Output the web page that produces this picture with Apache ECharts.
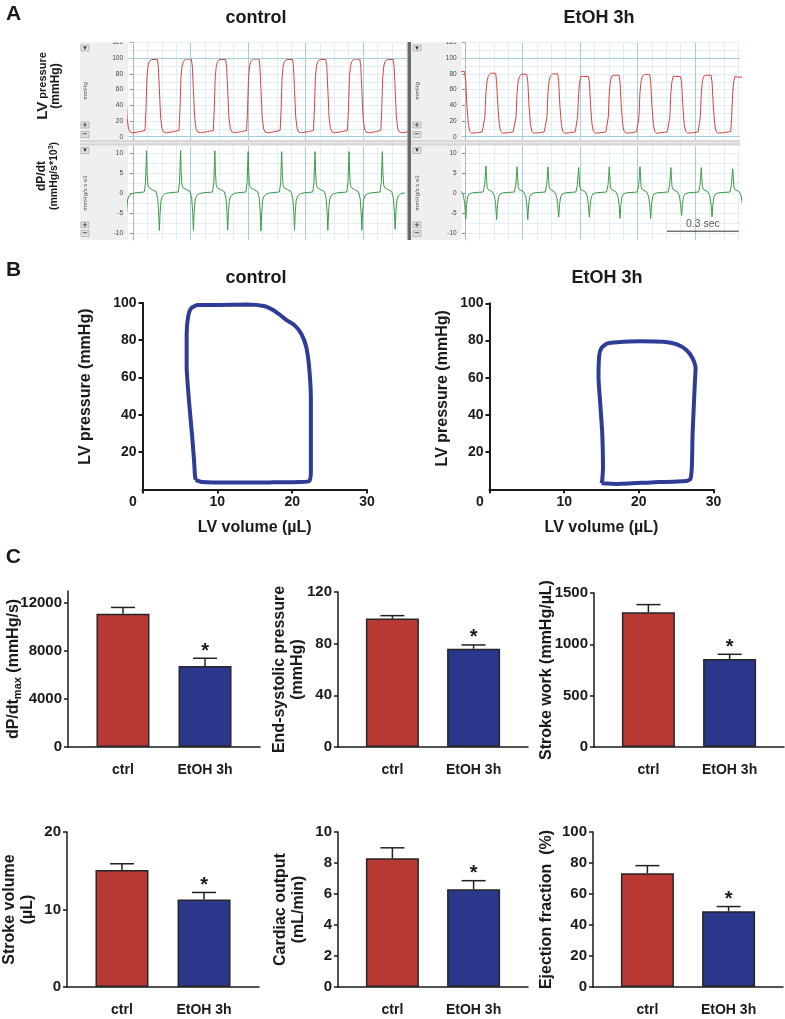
<!DOCTYPE html>
<html>
<head>
<meta charset="utf-8">
<title>LV function</title>
<script src="https://cdn.jsdelivr.net/npm/echarts@6.0.0/dist/echarts.min.js"></script>
<style>
  html, body { margin: 0; padding: 0; background: #ffffff; }
  #chart { width: 785px; height: 1019px; }
</style>
</head>
<body>
<div id="chart"></div>
<script>
const FONT = '"Liberation Sans", Arial, Helvetica, sans-serif';

/* ---------------- Panel A : pressure & dP/dt recordings ---------------- */
const traceMajorTimes = [0, 0.24, 0.48, 0.72, 0.96];
const traceMinorTimes = [0.06, 0.12, 0.18, 0.30, 0.36, 0.42, 0.54, 0.60, 0.66, 0.78, 0.84, 0.90, 1.02, 1.08, 1.14];
const pressureTickLabels = [0, 20, 40, 60, 80, 100, 120];
const pressureMinorLines = [10, 30, 50, 70, 90, 110];
const pressureMajorLines = [0, 100];
const dpdtTickLabels = [-10, -5, 0, 5, 10];
const dpdtMinorLines = [-7.5, -2.5, 2.5, 7.5];

// upstroke time of each beat (s) and per-beat extremes
const ctrlBeatOnsets   = [-0.090, 0.050, 0.192, 0.335, 0.474, 0.614, 0.753, 0.895, 1.034];
const ctrlSystolicPeak = [98.5, 98.5, 99, 98.5, 99, 98.5, 98.5, 99, 98.5];
const ctrlDpdtMax      = [10.5, 10.5, 10.6, 10.5, 10.3, 10.3, 10.3, 10.3, 10.3];
const ctrlDpdtMin      = [-9.4, -9.4, -9.4, -9.3, -9.5, -9.4, -9.4, -9.4, -9.1];

const etohBeatOnsets   = [-0.050, 0.079, 0.209, 0.338, 0.466, 0.594, 0.722, 0.851, 0.978, 1.109];
const etohSystolicPeak = [83, 81, 79.7, 80.2, 76.8, 78.5, 79.3, 76.8, 78.5, 76];
const etohDpdtMax      = [6.5, 6.7, 6.5, 6.5, 6.3, 6.5, 6.5, 6.3, 6.3, 6.0];
const etohDpdtMin      = [-6.6, -6.7, -6.7, -6.1, -6.1, -6.4, -6.4, -5.7, -6.0, -6.0];

// one beat: [s after upstroke, value]; 'P' = that beat's peak, 'N' = its minimum
const ctrlPressureBeat = [[0, 8], [0.004, 35], [0.008, 75], [0.0125, 90], [0.018, 96], [0.028, 'P'], [0.0515, 'P'], [0.0555, 90], [0.060, 60], [0.065, 25], [0.071, 10], [0.078, 6], [0.089, 5], [0.118, 6.5]];
const ctrlDpdtBeat     = [[-0.003, 0.2], [0.002, 2.5], [0.0045, 7], [0.0065, 'P'], [0.009, 5], [0.012, 2], [0.016, 1.3], [0.030, 0.8], [0.046, 0.3], [0.053, -1.5], [0.057, -5], [0.060, 'N'], [0.063, -5], [0.067, -1.8], [0.073, -0.8], [0.085, -0.2], [0.100, 0]];
const etohPressureBeat = [[0, 6.5], [0.004, 25], [0.008, 55], [0.0125, 70], [0.018, 77], [0.028, 'P'], [0.0487, 'P'], [0.053, 70], [0.058, 40], [0.064, 16], [0.0696, 7], [0.078, 4.5], [0.097, 5], [0.122, 6.2]];
const etohDpdtBeat     = [[-0.003, 0.2], [0.003, 2], [0.006, 4.5], [0.0083, 'P'], [0.0105, 4], [0.013, 1.5], [0.018, 0.8], [0.035, 0.3], [0.044, -0.8], [0.049, -3], [0.053, 'N'], [0.0565, -3], [0.061, -1], [0.068, -0.3], [0.080, 0]];

const scaleBar = [[0.843, -9.6], [1.143, -9.6]];   // 0.3 sec
const scaleBarLabel = [[0.993, -9.6]];

/* ---------------- Panel B : PV loops ---------------- */
const volumeTicks = [0, 10, 20, 30];
const pvPressureTicks = [20, 40, 60, 80, 100];
const ctrlLoop = [[7.1,5.2],[8,4],[12,3.7],[17,3.8],[21,4.0],[22.3,4.6],[22.5,10],[22.5,25],[22.5,48],[22.3,64],[21.9,76],[21.2,83.5],[20.3,88],[19.2,90.8],[18.4,93.4],[17.5,96],[16.2,98.2],[14,99],[10,98.8],[7.4,98.8],[6.5,97],[6.1,92.5],[5.9,83],[5.9,66],[6.2,48],[6.6,30],[6.9,15],[7.0,8],[7.1,5.2]];
const etohLoop = [[15.0,3.2],[17,2.9],[21.6,3.7],[26.4,4.5],[26.9,5.5],[27.1,12],[27.2,30],[27.4,48],[27.5,57],[27.6,65],[27.2,70.4],[26.4,74.8],[25.1,77.9],[23.3,79.3],[20.2,79.6],[17.1,79.1],[15.8,78.4],[15.0,76],[14.7,72],[14.6,60],[14.8,48],[15.1,30],[15.2,12],[15.1,5],[15.0,3.2]];

/* ---------------- Panel C : haemodynamic parameters ---------------- */
const groups = ['ctrl', 'EtOH 3h'];
const significant = [0, 1];
const dpdtMaxMean = [11100, 6750];  const dpdtMaxSem = [530, 645];
const espMean = [99.4, 76.1];       const espSem = [2.3, 2.9];
const strokeWorkMean = [1312, 857]; const strokeWorkSem = [75, 46];
const strokeVolMean = [15.1, 11.3]; const strokeVolSem = [0.8, 0.9];
const coMean = [8.3, 6.3];          const coSem = [0.68, 0.56];
const efMean = [73.4, 48.9];        const efSem = [4.9, 3.0];
const dpdtMaxTicks = [0, 4000, 8000, 12000];
const espTicks = [0, 40, 80, 120];
const strokeWorkTicks = [0, 500, 1000, 1500];
const strokeVolTicks = [0, 10, 20];
const coTicks = [0, 2, 4, 6, 8, 10];
const efTicks = [0, 20, 40, 60, 80, 100];

/* ================= build ================= */
function buildTrace(onsets, beat, peaks, mins) {
  const out = [];
  onsets.forEach((t0, i) => {
    beat.forEach(([dt, v]) => {
      const val = v === 'P' ? peaks[i] : (v === 'N' ? mins[i] : v);
      out.push([+(t0 + dt).toFixed(4), val]);
    });
  });
  return out;
}
const ctrlPressureTrace = buildTrace(ctrlBeatOnsets, ctrlPressureBeat, ctrlSystolicPeak, []);
const ctrlDpdtTrace = buildTrace(ctrlBeatOnsets, ctrlDpdtBeat, ctrlDpdtMax, ctrlDpdtMin);
const etohPressureTrace = buildTrace(etohBeatOnsets, etohPressureBeat, etohSystolicPeak, []);
const etohDpdtTrace = buildTrace(etohBeatOnsets, etohDpdtBeat, etohDpdtMax, etohDpdtMin);

const INK = '#1a1a1a';
const RED = '#b93a34';
const BLUE = '#2b378a';
const GRID_MAJOR = '#a3cfdb';
const GRID_MINOR = '#e0eff4';
const plain = v => String(v);

const grids = [], xAxes = [], yAxes = [], series = [], graphics = [];

function addGrid(g) {
  grids.push(Object.assign({containLabel: false, outerBoundsMode: 'none'}, g));
  return grids.length - 1;
}

function traceGrid(rect, xr, yr, yTicks, yMinor, yName, nameGap) {
  const gi = addGrid(Object.assign({show: true, backgroundColor: '#ffffff', borderWidth: 0}, rect));
  const xi = xAxes.push({gridIndex: gi, type: 'value', position: 'bottom', min: xr[0], max: xr[1],
    axisLine: {show: false}, axisTick: {show: false, customValues: traceMajorTimes}, axisLabel: {show: false},
    splitLine: {show: true, lineStyle: {color: GRID_MAJOR, width: 1}}}) - 1;
  xAxes.push({gridIndex: gi, type: 'value', position: 'top', min: xr[0], max: xr[1],
    axisLine: {show: false}, axisTick: {show: false, customValues: traceMinorTimes}, axisLabel: {show: false},
    splitLine: {show: true, lineStyle: {color: GRID_MINOR, width: 1}}});
  const yi = yAxes.push({gridIndex: gi, type: 'value', position: 'left', min: yr[0], max: yr[1],
    name: yName, nameLocation: 'middle', nameGap: nameGap, nameRotate: 90, nameMoveOverlap: false,
    nameTextStyle: {fontSize: 6, color: '#555', fontFamily: FONT},
    axisLine: {show: true, lineStyle: {color: '#b4b4b4', width: 1}},
    axisTick: {show: true, length: 3, customValues: yTicks, lineStyle: {color: '#888'}},
    axisLabel: {customValues: yTicks, fontSize: 6.5, color: '#444', margin: 5, fontFamily: FONT, formatter: plain},
    splitLine: {show: true, lineStyle: {color: GRID_MINOR, width: 1}}}) - 1;
  yAxes.push({gridIndex: gi, type: 'value', position: 'right', min: yr[0], max: yr[1],
    axisLine: {show: false}, axisTick: {show: false, customValues: yMinor}, axisLabel: {show: false},
    splitLine: {show: true, lineStyle: {color: GRID_MINOR, width: 1}}});
  return {x: xi, y: yi};
}

const CTRL_X = [-0.021, 1.1434], ETOH_X = [-0.0138, 1.1477];
const P_RANGE = [-4.2, 120.8], D_RANGE = [-11.8, 11.7];

const aCP = traceGrid({left: 128, top: 42, width: 279, height: 98}, CTRL_X, P_RANGE, pressureTickLabels, pressureMinorLines, 'mmHg', 40);
const aCD = traceGrid({left: 128, top: 146, width: 279, height: 94}, CTRL_X, D_RANGE, dpdtTickLabels, dpdtMinorLines, 'mmHg/s x e3', 40);
const aEP = traceGrid({left: 461.7, top: 42, width: 278.3, height: 98}, ETOH_X, P_RANGE, pressureTickLabels, pressureMinorLines, 'mmHg', 41);
const aED = traceGrid({left: 461.7, top: 146, width: 278.3, height: 94}, ETOH_X, D_RANGE, dpdtTickLabels, dpdtMinorLines, 'mmHg/s x e3', 41);

function pressureMajor() {
  return {silent: true, symbol: 'none', label: {show: false},
    lineStyle: {color: GRID_MAJOR, type: 'solid', width: 1},
    data: pressureMajorLines.map(v => ({yAxis: v}))};
}
function traceSeries(ax, data, color, withMajor) {
  const s = {type: 'line', xAxisIndex: ax.x, yAxisIndex: ax.y, data, showSymbol: false, symbol: 'none',
    silent: true, lineStyle: {color, width: 1}, z: 3};
  if (withMajor) s.markLine = pressureMajor();
  series.push(s);
}
traceSeries(aCP, ctrlPressureTrace, '#d6453d', true);
traceSeries(aCD, ctrlDpdtTrace, '#3c9a46', false);
traceSeries(aEP, etohPressureTrace, '#d6453d', true);
traceSeries(aED, etohDpdtTrace, '#3c9a46', false);
series.push({type: 'line', xAxisIndex: aED.x, yAxisIndex: aED.y, clip: false, silent: true, z: 5,
  data: scaleBar, showSymbol: false, symbol: 'none', lineStyle: {color: '#333', width: 1}});
series.push({type: 'scatter', xAxisIndex: aED.x, yAxisIndex: aED.y, clip: false, silent: true, z: 6,
  data: scaleBarLabel, symbol: 'circle', symbolSize: 1, itemStyle: {color: 'rgba(0,0,0,0)'},
  label: {show: true, position: 'top', distance: 1, formatter: '0.3 sec', fontSize: 10.5, color: '#333', fontFamily: FONT}});

/* ---- Panel B ---- */
function pvGrid(rect, loop, nameGap, namePad) {
  const gi = addGrid(rect);
  const xi = xAxes.push({gridIndex: gi, type: 'value', min: 0, max: 30, interval: 10,
    axisLine: {show: true, lineStyle: {color: INK, width: 2}},
    axisTick: {show: true, length: 4, customValues: volumeTicks, lineStyle: {color: INK, width: 2}},
    axisLabel: {customValues: volumeTicks, margin: 6, fontSize: 14, fontWeight: 'bold', color: INK, fontFamily: FONT,
      formatter: v => v === 0 ? '{z|0}' : String(v),
      rich: {z: {fontSize: 14, fontWeight: 'bold', color: INK, fontFamily: FONT, padding: [0, 19, 0, 0]}}},
    splitLine: {show: false},
    name: 'LV volume (µL)', nameLocation: 'middle', nameGap: 30, nameMoveOverlap: false,
    nameTextStyle: {fontSize: 16, fontWeight: 'bold', color: INK, fontFamily: FONT}}) - 1;
  const yi = yAxes.push({gridIndex: gi, type: 'value', min: 0, max: 100,
    axisLine: {show: true, lineStyle: {color: INK, width: 2}},
    axisTick: {show: true, length: 4, customValues: pvPressureTicks, lineStyle: {color: INK, width: 2}},
    axisLabel: {customValues: pvPressureTicks, margin: 6, fontSize: 14, fontWeight: 'bold', color: INK, fontFamily: FONT, formatter: plain},
    splitLine: {show: false},
    name: 'LV pressure (mmHg)', nameLocation: 'middle', nameGap: nameGap, nameMoveOverlap: false,
    nameTextStyle: {fontSize: 16, fontWeight: 'bold', color: INK, fontFamily: FONT, padding: [0, 0, 0, namePad]}}) - 1;
  series.push({type: 'line', xAxisIndex: xi, yAxisIndex: yi, data: loop, smooth: 0.2, showSymbol: false,
    symbol: 'none', silent: true, lineStyle: {color: '#2d3c95', width: 4}});
}
pvGrid({left: 142.5, top: 302.7, width: 224.5, height: 186.8}, ctrlLoop, 49, 19);
pvGrid({left: 489.5, top: 303.3, width: 224, height: 186}, etohLoop, 39, 16);

/* ---- Panel C ---- */
function errRender(params, api) {
  const x = api.value(0), m = api.value(1), s = api.value(2);
  const base = api.coord([x, m]);
  const top = api.coord([x, m + s]);
  const cap = 12;
  const children = [
    {type: 'line', shape: {x1: base[0], y1: base[1], x2: top[0], y2: top[1]}, style: {stroke: '#222', lineWidth: 1.5}},
    {type: 'line', shape: {x1: top[0] - cap, y1: top[1], x2: top[0] + cap, y2: top[1]}, style: {stroke: '#222', lineWidth: 1.5}}
  ];
  if (api.value(3)) {
    children.push({type: 'text', style: {text: '*', x: top[0], y: top[1] - 7, align: 'center', verticalAlign: 'middle',
      font: 'bold 20px ' + FONT, fill: INK}});
  }
  return {type: 'group', children};
}

function barChart(rect, means, sems, max, ticks, name, nameGap, rich) {
  const gi = addGrid(rect);
  const xi = xAxes.push({gridIndex: gi, type: 'value', min: 0.33, max: 2.67,
    axisLine: {show: true, lineStyle: {color: INK, width: 1.5}},
    axisTick: {show: false, customValues: [1, 2]},
    axisLabel: {customValues: [1, 2], formatter: v => groups[Math.round(v) - 1], margin: 16,
      fontSize: 14, fontWeight: 'bold', color: INK, fontFamily: FONT},
    splitLine: {show: false}}) - 1;
  const nts = {fontSize: 16, fontWeight: 'bold', color: INK, fontFamily: FONT, lineHeight: 18, align: 'center'};
  if (rich) nts.rich = rich;
  const yi = yAxes.push({gridIndex: gi, type: 'value', min: 0, max: max,
    axisLine: {show: true, lineStyle: {color: INK, width: 1.5}},
    axisTick: {show: true, length: 4, customValues: ticks, lineStyle: {color: INK, width: 1.5}},
    axisLabel: {customValues: ticks, margin: 6, fontSize: 15, fontWeight: 'bold', color: INK, fontFamily: FONT, formatter: plain},
    splitLine: {show: false},
    name: name, nameLocation: 'middle', nameGap: nameGap, nameMoveOverlap: false, nameTextStyle: nts}) - 1;
  series.push({type: 'bar', xAxisIndex: xi, yAxisIndex: yi, barWidth: 53, silent: true,
    data: means.map((m, i) => ({value: [i + 1, m], itemStyle: {color: i === 0 ? RED : BLUE}})),
    itemStyle: {borderColor: '#262626', borderWidth: 1.5}});
  series.push({type: 'custom', xAxisIndex: xi, yAxisIndex: yi, silent: true, z: 4,
    renderItem: errRender, encode: {x: 0, y: 1},
    data: means.map((m, i) => [i + 1, m, sems[i], significant[i]])});
}

const subRich = {
  a: {fontSize: 16, fontWeight: 'bold', color: INK, fontFamily: FONT, lineHeight: 19},
  s: {fontSize: 11, fontWeight: 'bold', color: INK, fontFamily: FONT, lineHeight: 11, verticalAlign: 'bottom'}
};
barChart({left: 68, top: 591, width: 192, height: 156}, dpdtMaxMean, dpdtMaxSem, 13000, dpdtMaxTicks,
  '{a|dP/dt}{s|max}{a| (mmHg/s)}', 45, subRich);
barChart({left: 338, top: 592, width: 190, height: 155}, espMean, espSem, 120, espTicks,
  'End-systolic pressure\n(mmHg)', 31);
barChart({left: 594, top: 593, width: 190, height: 154}, strokeWorkMean, strokeWorkSem, 1500, strokeWorkTicks,
  'Stroke work (mmHg/µL)', 38);
barChart({left: 67, top: 832, width: 192, height: 155}, strokeVolMean, strokeVolSem, 20, strokeVolTicks,
  'Stroke volume\n(µL)', 30);
barChart({left: 338, top: 832, width: 190, height: 155}, coMean, coSem, 10, coTicks,
  'Cardiac output\n(mL/min)', 30);
barChart({left: 593, top: 832, width: 190, height: 155}, efMean, efSem, 100, efTicks,
  'Ejection fraction  (%)', 37);

/* ---- decorations / text ---- */
function txt(x, y, text, font, extra) {
  graphics.push(Object.assign({type: 'text', x, y, z: 50,
    style: {text, font: font + ' ' + FONT, fill: INK, align: 'center', verticalAlign: 'middle'}}, extra || {}));
}
txt(13.5, 14.5, 'A', 'bold 21px');
txt(256, 18, 'control', 'bold 18px');
txt(599, 18, 'EtOH 3h', 'bold 18px');
txt(13.7, 270, 'B', 'bold 21px');
txt(256, 278, 'control', 'bold 18px');
txt(607, 278, 'EtOH 3h', 'bold 18px');
txt(13.3, 557, 'C', 'bold 21px');

// outer labels of panel A (rotated)
graphics.push({type: 'text', x: 49.5, y: 86, rotation: Math.PI / 2, z: 50,
  style: {text: '{lv|LV}{p| pressure}\n{u|(mmHg)}', align: 'center', verticalAlign: 'middle', fill: INK,
    rich: {
      lv: {fontSize: 15, fontWeight: 'bold', fontFamily: FONT, fill: INK, lineHeight: 13},
      p: {fontSize: 11, fontWeight: 'bold', fontFamily: FONT, fill: INK, lineHeight: 13},
      u: {fontSize: 12, fontWeight: 'bold', fontFamily: FONT, fill: INK, lineHeight: 13}
    }}});
graphics.push({type: 'text', x: 48, y: 176, rotation: Math.PI / 2, z: 50,
  style: {text: '{d|dP/dt}\n{u|(mmHg/s*10}{sup|3}{u|)}', align: 'center', verticalAlign: 'middle', fill: INK,
    rich: {
      d: {fontSize: 12, fontWeight: 'bold', fontFamily: FONT, fill: INK, lineHeight: 12.5},
      u: {fontSize: 10.5, fontWeight: 'bold', fontFamily: FONT, fill: INK, lineHeight: 12.5},
      sup: {fontSize: 7, fontWeight: 'bold', fontFamily: FONT, fill: INK, lineHeight: 7, verticalAlign: 'top'}
    }}});

// recorder side strips, separators and buttons
function rect(x, y, w, h, fill, z, stroke) {
  graphics.push({type: 'rect', z, shape: {x, y, width: w, height: h},
    style: {fill, stroke: stroke || null, lineWidth: stroke ? 0.6 : 0}});
}
rect(80, 42, 48, 198, '#efefef', -5);
rect(411, 42, 50.7, 198, '#efefef', -5);
rect(30, 30, 740, 12.2, '#ffffff', 90);
rect(80, 140, 660, 5.5, '#d7d7d7', 95);
rect(80, 142.3, 660, 1, '#efefef', 96);
rect(407.5, 42, 3.5, 198, '#6a6a6a', 97);

function button(x, y, glyph) {
  rect(x, y, 8, 6, '#e2e2e2', 98, '#9a9a9a');
  graphics.push({type: 'text', x: x + 4, y: y + 3, z: 99,
    style: {text: glyph, font: 'bold 7px "DejaVu Sans", ' + FONT, fill: '#333', align: 'center', verticalAlign: 'middle'}});
}
[81, 413].forEach(bx => {
  button(bx, 45, '▾');
  button(bx, 122, '+');
  button(bx, 131.5, '−');
  button(bx, 147.5, '▾');
  button(bx, 222, '+');
  button(bx, 230.5, '−');
});

const chart = echarts.init(document.getElementById('chart'), null, {renderer: 'canvas', width: 785, height: 1019});
chart.setOption({
  animation: false,
  backgroundColor: '#ffffff',
  textStyle: {fontFamily: FONT},
  grid: grids,
  xAxis: xAxes,
  yAxis: yAxes,
  series: series,
  graphic: {elements: graphics}
});
</script>
</body>
</html>
